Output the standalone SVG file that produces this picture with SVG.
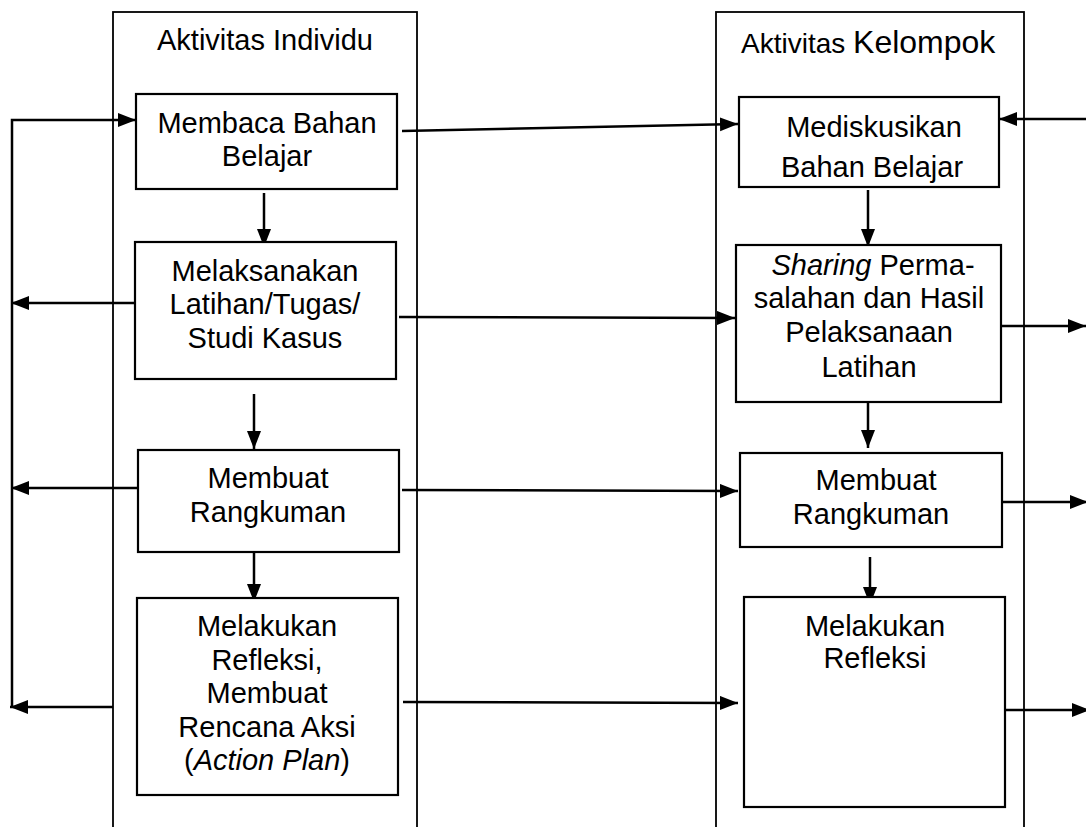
<svg xmlns="http://www.w3.org/2000/svg" width="1086" height="827" viewBox="0 0 1086 827">
<style>
.cont{fill:none;stroke:#000;stroke-width:1.8}
.box{fill:#fff;stroke:#000;stroke-width:2.2}
.t{font-family:"Liberation Sans",Arial,sans-serif;font-size:29px;fill:#000;text-anchor:middle}
.c{fill:none;stroke:#000;stroke-width:2.5}
</style>
<defs>
<marker id="ah" markerUnits="userSpaceOnUse" markerWidth="20" markerHeight="16" refX="18" refY="7" orient="auto">
<path d="M0,0 L18,7 L0,14 z" fill="#000"/>
</marker>
</defs>
<rect width="1086" height="827" fill="#fff"/>
<g id="col-individu">
<rect class="cont" x="113" y="12" width="304" height="830"/>
<text class="t" x="265" y="50">Aktivitas Individu</text>
</g>
<g id="col-kelompok">
<rect class="cont" x="716" y="12" width="308" height="830"/>
<text x="741" y="53" font-family="Liberation Sans, Arial, sans-serif" fill="#000"><tspan font-size="28">Aktivitas </tspan><tspan font-size="32">Kelompok</tspan></text>
</g>
<g id="connectors">
<path class="c" d="M12,708 L12,120 L136,120" marker-end="url(#ah)"/>
<path class="c" d="M135,303 L11,303" marker-end="url(#ah)"/>
<path class="c" d="M138,488 L11,488" marker-end="url(#ah)"/>
<path class="c" d="M113,707 L10,707" marker-end="url(#ah)"/>
<path class="c" d="M264,193 L264,247" marker-end="url(#ah)"/>
<path class="c" d="M254,394 L254,449" marker-end="url(#ah)"/>
<path class="c" d="M254,553 L254,602" marker-end="url(#ah)"/>
<path class="c" d="M402,131 L738,124" marker-end="url(#ah)"/>
<path class="c" d="M399,317 L735,318" marker-end="url(#ah)"/>
<path class="c" d="M402,490 L738,491" marker-end="url(#ah)"/>
<path class="c" d="M403,702 L738,703" marker-end="url(#ah)"/>
<path class="c" d="M1086,119 L999,119" marker-end="url(#ah)"/>
<path class="c" d="M868,190 L868,247" marker-end="url(#ah)"/>
<path class="c" d="M868,400 L868,448" marker-end="url(#ah)"/>
<path class="c" d="M870,557 L870,605" marker-end="url(#ah)"/>
<path class="c" d="M996,326 L1086,326" marker-end="url(#ah)"/>
<path class="c" d="M997,502 L1088,502" marker-end="url(#ah)"/>
<path class="c" d="M1000,710 L1090,710" marker-end="url(#ah)"/>
</g>
<g id="n-membaca">
<rect class="box" x="136" y="94" width="261" height="95"/>
<text class="t" x="267" y="133">Membaca Bahan</text>
<text class="t" x="267" y="166">Belajar</text>
</g>
<g id="n-melaksanakan">
<rect class="box" x="135" y="242" width="261" height="137"/>
<text class="t" x="265" y="281">Melaksanakan</text>
<text class="t" x="265" y="314">Latihan/Tugas/</text>
<text class="t" x="265" y="348">Studi Kasus</text>
</g>
<g id="n-rangkuman-ind">
<rect class="box" x="138" y="450" width="261" height="102"/>
<text class="t" x="268" y="488">Membuat</text>
<text class="t" x="268" y="522">Rangkuman</text>
</g>
<g id="n-refleksi-ind">
<rect class="box" x="137" y="598" width="261" height="197"/>
<text class="t" x="267" y="636">Melakukan</text>
<text class="t" x="267" y="670">Refleksi,</text>
<text class="t" x="267" y="703">Membuat</text>
<text class="t" x="267" y="737">Rencana Aksi</text>
<text class="t" x="267" y="770">(<tspan font-style="italic">Action Plan</tspan>)</text>
</g>
<g id="n-mediskusikan">
<rect class="box" x="739" y="97" width="260" height="90"/>
<text class="t" x="874" y="137">Mediskusikan</text>
<text class="t" x="872" y="177">Bahan Belajar</text>
</g>
<g id="n-sharing">
<rect class="box" x="736" y="245" width="265" height="157"/>
<text class="t" x="873" y="275"><tspan font-style="italic">Sharing</tspan> Perma-</text>
<text class="t" x="869" y="308">salahan dan Hasil</text>
<text class="t" x="869" y="342">Pelaksanaan</text>
<text class="t" x="869" y="377">Latihan</text>
</g>
<g id="n-rangkuman-kel">
<rect class="box" x="740" y="453" width="262" height="94"/>
<text class="t" x="876" y="490">Membuat</text>
<text class="t" x="871" y="524">Rangkuman</text>
</g>
<g id="n-refleksi-kel">
<rect class="box" x="744" y="597" width="261" height="210"/>
<text class="t" x="875" y="636">Melakukan</text>
<text class="t" x="875" y="668">Refleksi</text>
</g>
</svg>
